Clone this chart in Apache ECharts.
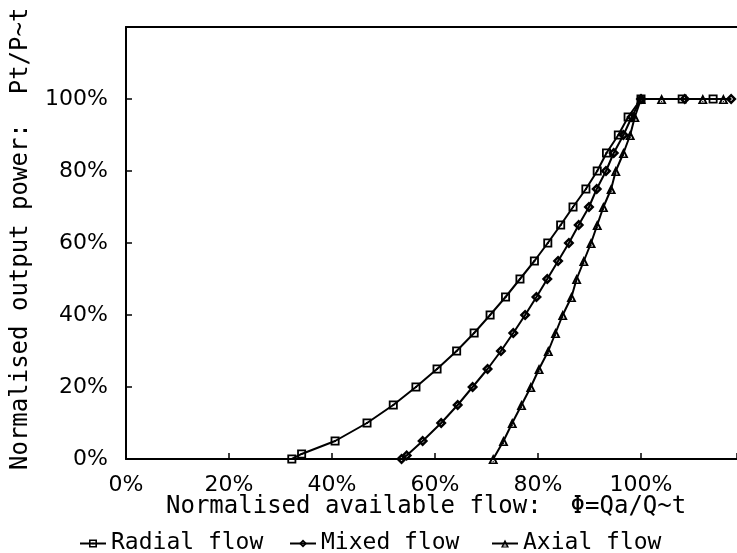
<!DOCTYPE html>
<html>
<head>
<meta charset="utf-8">
<script src="https://cdn.jsdelivr.net/npm/echarts@6/dist/echarts.min.js"></script>
<style>
html,body{margin:0;padding:0;background:#fff;}
#chart{width:737px;height:553px;}
</style>
</head>
<body>
<div id="chart"></div>
<script>
var xTicks = [0, 20, 40, 60, 80, 100];
var yTicks = [0, 20, 40, 60, 80, 100];

var radialX = [32.2,34.1,40.6,46.8,51.9,56.3,60.4,64.2,67.6,70.7,73.7,76.5,79.3,81.9,84.4,86.8,89.3,91.5,93.3,95.6,97.5,100,108,114];
var radialY = [0,1.4,5,10,15,20,25,30,35,40,45,50,55,60,65,70,75,80,85,90,95,100,100,100];

var mixedX = [53.5,54.5,57.6,61.2,64.4,67.3,70.2,72.8,75.2,77.5,79.7,81.8,83.9,86.0,87.9,89.9,91.4,93.2,94.7,96.6,98.2,100,108.5,117.5];
var mixedY = [0,1,5,10,15,20,25,30,35,40,45,50,55,60,65,70,75,80,85,90,95,100,100,100];

var axialX = [71.3,73.3,75.0,76.8,78.6,80.2,82.0,83.4,84.8,86.5,87.5,88.9,90.3,91.5,92.7,94.2,95.1,96.6,97.9,98.8,100,104,112,116];
var axialY = [0,5,10,15,20,25,30,35,40,45,50,55,60,65,70,75,80,85,90,95,100,100,100,100];

var names = ['Radial flow', 'Mixed flow', 'Axial flow'];

function pairs(xs, ys){ return xs.map(function(x,i){ return [x, ys[i]]; }); }

var symSquare = 'path://M0,0 L10,0 L10,10 L0,10 Z M2,2 L2,8 L8,8 L8,2 Z M4,4 L6,4 L6,6 L4,6 Z';
var symDiamond = 'path://M5,0 L10,5 L5,10 L0,5 Z M5,3.2 L3.2,5 L5,6.8 L6.8,5 Z M5,4.3 L5.7,5 L5,5.7 L4.3,5 Z';
var symTri = 'path://M5,0 L10,10 L0,10 Z M5,4.2 L2.9,8.6 L7.1,8.6 Z M5,6.6 L5.8,8 L4.2,8 Z';

var chart = echarts.init(document.getElementById('chart'), null, {renderer:'canvas'});

var tickFont = {fontFamily:'DejaVu Sans', fontSize:22, color:'#000'};
var monoFont = 'DejaVu Sans Mono';

function mkSeries(name, xs, ys, sym, size){
  return {
    name: name, type: 'line', data: pairs(xs, ys),
    symbol: sym, symbolSize: size, showAllSymbol: true,
    lineStyle: {color:'#000', width:2},
    itemStyle: {color:'#000', borderWidth:0},
    animation: false
  };
}

function mkLegend(name, left){
  return {
    data: [name], left: left, top: 527, itemWidth: 26, itemHeight: 10, itemGap: 5,
    textStyle: {fontFamily: monoFont, fontSize: 23, color:'#000', padding:[0,0,0,0]}
  };
}

chart.setOption({
  animation: false,
  backgroundColor: '#fff',
  grid: {left: 126, right: 0, top: 27, bottom: 94, containLabel: false},
  legend: [mkLegend(names[0], 74), mkLegend(names[1], 284), mkLegend(names[2], 486)],
  xAxis: [{
    type: 'value', min: 0, max: 118.64, interval: 20,
    axisLine: {show: true, onZero: false, lineStyle: {color:'#000', width:2}},
    axisTick: {show: true, inside: true, length: 6, lineStyle: {color:'#000', width:1.5}},
    axisLabel: {show: false},
    splitLine: {show: false}
  }, {
    type: 'value', position: 'top', min: 0, max: 118.64,
    axisLine: {show: true, onZero: false, lineStyle: {color:'#000', width:2}},
    axisTick: {show: false}, axisLabel: {show: false}, splitLine: {show: false}
  }],
  yAxis: [{
    type: 'value', min: 0, max: 120, interval: 20,
    axisLine: {show: true, onZero: false, lineStyle: {color:'#000', width:2}},
    axisTick: {show: true, inside: true, length: 6, lineStyle: {color:'#000', width:1.5}},
    axisLabel: Object.assign({margin: 18,
      formatter: function(v){ return yTicks.indexOf(v) >= 0 ? v + '%' : ''; }}, tickFont),
    splitLine: {show: false}
  }],
  graphic: [
    {type:'text', left: 166, top: 495, style:{text:'Normalised available flow:  \u03A6=Qa/Q~t', font:'24px "DejaVu Sans Mono"', fill:'#000'}},
    {type:'text', x: 9, y: 470, rotation: Math.PI/2, style:{text:'Normalised output power:  Pt/P~t', font:'24px "DejaVu Sans Mono"', fill:'#000', textVerticalAlign:'top'}}
  ],
  series: [
    mkSeries(names[0], radialX, radialY, symSquare, 9),
    mkSeries(names[1], mixedX, mixedY, symDiamond, 11),
    mkSeries(names[2], axialX, axialY, symTri, 10)
  ]
});

// x-axis tick labels, positioned through the library's own x scale
var baseY = chart.convertToPixel({yAxisIndex: 0}, 0);
var labelEls = xTicks.map(function(v, i){
  var px = chart.convertToPixel({xAxisIndex: 0}, v);
  return {type:'text', id:'xl' + i, x: px, y: baseY + 15,
    style:{text: v + '%', font:'22px "DejaVu Sans"', fill:'#000', textAlign:'center', textVerticalAlign:'top'}};
});
chart.setOption({graphic: labelEls});
</script>
</body>
</html>
